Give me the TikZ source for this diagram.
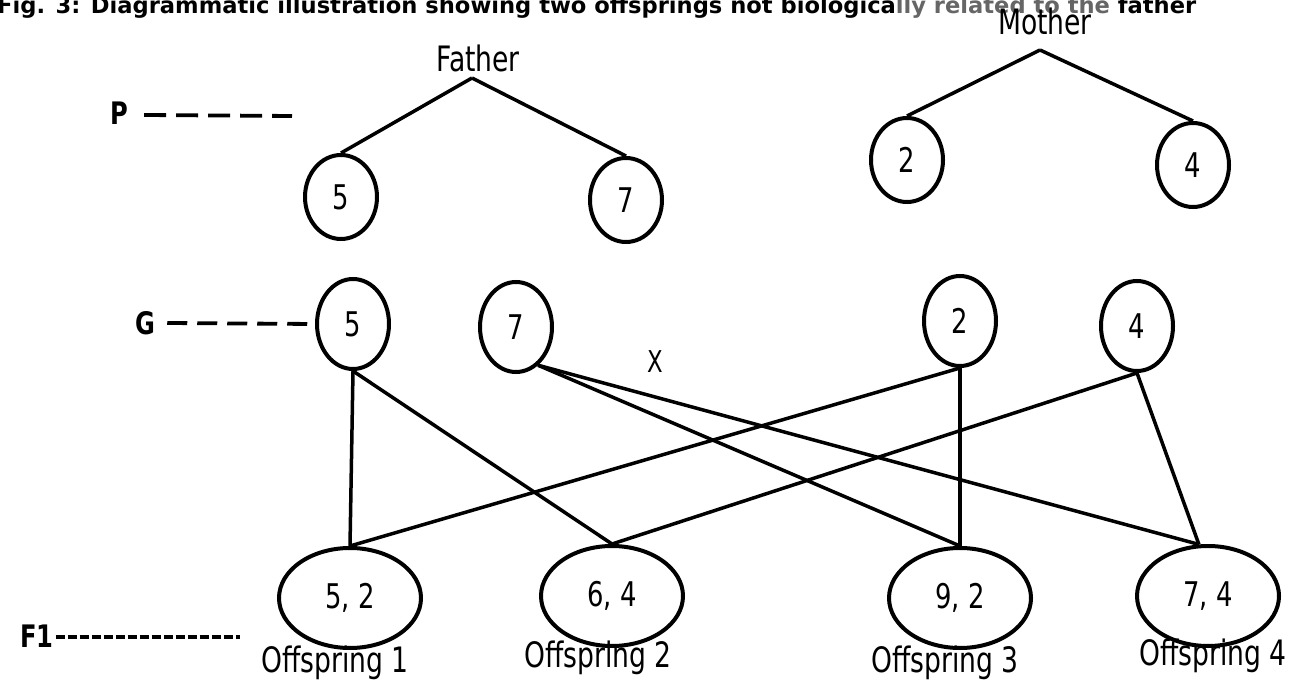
\documentclass[tikz,border=0pt]{standalone}
\usepackage{fontspec}
\usetikzlibrary{shapes.geometric}
\newfontfamily\labfont{DejaVu Sans}[FakeStretch=0.76]
\newfontfamily\genfont{DejaVu Sans Bold}[FakeStretch=0.78]
\newfontfamily\titlefont{DejaVu Sans Bold}
\begin{document}
\begin{tikzpicture}[x=1pt,y=-1pt,
  lab/.style={font=\labfont\fontsize{35}{37}\selectfont, inner sep=0pt},
  gen/.style={font=\genfont\fontsize{31}{33}\selectfont, inner sep=0pt},
  allele/.style={ellipse, draw, line width=4pt, minimum width=72pt, minimum height=84pt, inner sep=0pt,
    font=\labfont\fontsize{34}{36}\selectfont},
  gamete/.style={allele, minimum height=90pt},
  child/.style={allele, minimum width=142pt, minimum height=100pt},
  link/.style={line width=3.5pt},
  genline/.style={line width=3.8pt}]
\useasboundingbox (0,0) rectangle (1306,684);
\clip (0,0) rectangle (1306,684);

% caption, partly above the top edge
\node[anchor=base west, inner sep=0pt, font=\titlefont\fontsize{22.6}{24}\selectfont] (title) at (-3,14)
  {Fig. 3: Diagrammatic illustration showing two offsprings not biologica\textcolor{black!60}{lly related to the} father};

% parents
\node[lab] (father) at (478,58) {Father};
\coordinate (fa) at (472,78);
\node[allele] (p5) at (341,197) {5};
\node[allele] (p7) at (626,200) {7};
\draw[link] (fa) -- (p5.north);
\draw[link] (fa) -- (p7.north);

\node[lab] (mother) at (1045,21) {Mother};
\coordinate (ma) at (1040,50);
\node[allele] (m2) at (907,160) {2};
\node[allele] (m4) at (1193,165) {4};
\draw[link] (ma) -- (m2.north);
\draw[link] (ma) -- (m4.north);

% generation markers
\node[gen, anchor=west] (genP) at (110,113) {P};
\coordinate (pend) at (292,116);
\draw[genline, dash pattern=on 22pt off 10pt] (genP.east) ++(16,2) -- (pend);

% gametes
\node[gamete] (g5) at (353,324) {5};
\node[gamete] (g7) at (516,327) {7};
\node[gamete] (g2) at (960,321) {2};
\node[gamete] (g4) at (1137,326) {4};
\node[lab, font=\labfont\fontsize{30}{32}\selectfont] (cross) at (655,362) {X};

\node[gen, anchor=west] (genG) at (135,323) {G};
\draw[genline, dash pattern=on 20pt off 10pt] (genG.east) ++(12,0) -- (g5.west);

% offspring
\node[child] (o52) at (350,598) {5, 2};
\node[child] (o64) at (612,596) {6, 4};
\node[child] (o92) at (960,598) {9, 2};
\node[child] (o74) at (1208,596) {7, 4};

\node[lab] (n1) at (335,663) {Offspring 1};
\node[lab] (n2) at (598,658) {Offspring 2};
\node[lab] (n3) at (945,663) {Offspring 3};
\node[lab] (n4) at (1213,656) {Offspring 4};

\node[gen, anchor=west] (genF) at (20,636) {F1};
\coordinate (fend) at (240,637);
\draw[line width=4pt, dash pattern=on 9pt off 3pt] (genF.east) ++(2,1) -- (fend);

% inheritance lines
\draw[link] (g5.south) -- (o52.north);
\draw[link] (g5.south) -- (o64.north);
\draw[link] (g7.-60) -- (o92.north);
\draw[link] (g7.-60) -- (o74.100);
\draw[link] (g2.south) -- (o52.north);
\draw[link] (g2.south) -- (o92.north);
\draw[link] (g4.south) -- (o64.north);
\draw[link] (g4.south) -- (o74.100);
\end{tikzpicture}
\end{document}
